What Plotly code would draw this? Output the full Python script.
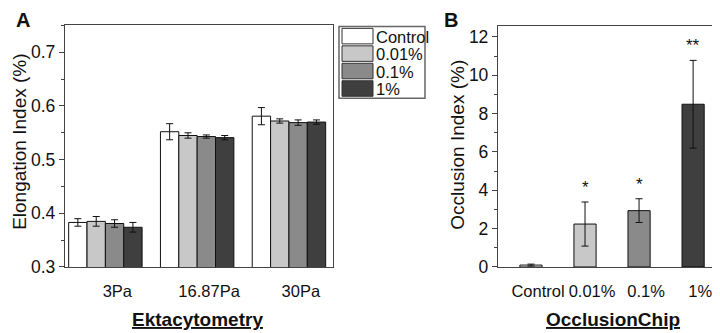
import plotly.graph_objects as go

# ---------------- data ----------------
shear_labels = ["3Pa", "16.87Pa", "30Pa"]
series_names = ["Control", "0.01%", "0.1%", "1%"]
ei_control = [0.383, 0.552, 0.581]
ei_001 = [0.385, 0.545, 0.572]
ei_01 = [0.381, 0.543, 0.569]
ei_1 = [0.374, 0.541, 0.570]
ei_control_err = [0.007, 0.015, 0.016]
ei_001_err = [0.009, 0.005, 0.004]
ei_01_err = [0.007, 0.003, 0.005]
ei_1_err = [0.009, 0.004, 0.004]

occ_labels = ["Control", "0.01%", "0.1%", "1%"]
occ_values = [0.10, 2.24, 2.94, 8.49]
occ_err = [0.05, 1.15, 0.62, 2.29]
occ_sig = ["", "*", "*", "**"]

# ---------------- style ----------------
colors = ["#ffffff", "#c8c8c8", "#8a8a8a", "#3f3f3f"]
FONT = "Liberation Sans, Arial, sans-serif"
W, H = 720, 333
LABEL_OFFSET = 0.13

def px(x):
    return x / W

def py(y):
    return 1 - y / H

fig = go.Figure()

ei_series = [ei_control, ei_001, ei_01, ei_1]
ei_errs = [ei_control_err, ei_001_err, ei_01_err, ei_1_err]
xa = list(range(len(shear_labels)))
for name, vals, errs, c in zip(series_names, ei_series, ei_errs, colors):
    fig.add_trace(go.Bar(
        x=xa, y=vals, name=name, xaxis="x", yaxis="y",
        marker=dict(color=c, line=dict(color="#111111", width=1)),
        error_y=dict(type="data", array=errs, color="#111111", thickness=1, width=3.5),
        showlegend=False,
    ))

xb = list(range(len(occ_labels)))
fig.add_trace(go.Bar(
    x=xb, y=occ_values, xaxis="x2", yaxis="y2", width=0.41,
    marker=dict(color=colors, line=dict(color="#111111", width=1)),
    error_y=dict(type="data", array=occ_err, color="#111111", thickness=1, width=3.5),
    showlegend=False, offsetgroup="b",
))

axis_common = dict(showline=True, linecolor="#444444", linewidth=1.3, mirror=True,
                   showgrid=False, zeroline=False)
ytick_font = dict(family=FONT, size=17.5, color="#111111")
xtick_font = dict(family=FONT, size=16.5, color="#111111")

fig.update_layout(
    width=W, height=H, margin=dict(l=0, r=0, t=0, b=0),
    plot_bgcolor="white", paper_bgcolor="white",
    barmode="group", bargap=0.2, bargroupgap=0,
    font=dict(family=FONT, size=16, color="#111111"),
    xaxis=dict(domain=[px(57), px(325)], range=[-0.44, 2.48],
               tickvals=[i + LABEL_OFFSET for i in xa], ticktext=shear_labels,
               ticks="outside", ticklen=9, tickcolor="rgba(0,0,0,0)", tickfont=xtick_font,
               anchor="y", **axis_common),
    yaxis=dict(domain=[py(267), py(18)], range=[0.3, 0.75],
               tickvals=[0.3, 0.4, 0.5, 0.6, 0.7], ticktext=["0.3", "0.4", "0.5", "0.6", "0.7"],
               ticks="outside", ticklen=5, tickcolor="#444444", tickfont=ytick_font,
               minor=dict(ticks="outside", ticklen=3, dtick=0.05, tick0=0.3, tickcolor="#444444"),
               anchor="x", **axis_common),
    xaxis2=dict(domain=[px(490), px(717)], range=[-0.61, 3.59],
                tickvals=[i + LABEL_OFFSET for i in xb], ticktext=occ_labels,
                ticks="outside", ticklen=9, tickcolor="rgba(0,0,0,0)", tickfont=xtick_font,
                anchor="y2", **axis_common),
    yaxis2=dict(domain=[py(267), py(19)], range=[0, 12.55],
                tickvals=[0, 2, 4, 6, 8, 10, 12],
                ticks="outside", ticklen=5, tickcolor="#444444", tickfont=ytick_font,
                minor=dict(ticks="outside", ticklen=3, dtick=1, tick0=0, tickcolor="#444444"),
                anchor="x2", **axis_common),
)

ann = []
# panel letters
ann.append(dict(text="<b>A</b>", x=px(15), y=py(12), xref="paper", yref="paper",
                showarrow=False, font=dict(size=20, family=FONT), xanchor="center", yanchor="middle"))
ann.append(dict(text="<b>B</b>", x=px(443), y=py(12), xref="paper", yref="paper",
                showarrow=False, font=dict(size=20, family=FONT), xanchor="center", yanchor="middle"))
# y titles
ann.append(dict(text="Elongation Index (%)", x=px(12), y=py(138), xref="paper", yref="paper",
                textangle=-90, showarrow=False, font=dict(size=19, family=FONT),
                xanchor="center", yanchor="middle"))
ann.append(dict(text="Occlusion Index (%)", x=px(450), y=py(141), xref="paper", yref="paper",
                textangle=-90, showarrow=False, font=dict(size=19, family=FONT),
                xanchor="center", yanchor="middle"))
# x titles
ann.append(dict(text="<b><u>Ektacytometry</u></b>", x=px(189), y=py(321), xref="paper", yref="paper",
                showarrow=False, font=dict(size=19, family=FONT), xanchor="center", yanchor="middle"))
ann.append(dict(text="<b><u>OcclusionChip</u></b>", x=px(605), y=py(321), xref="paper", yref="paper",
                showarrow=False, font=dict(size=19, family=FONT), xanchor="center", yanchor="middle"))
# significance stars
for i, (v, e, s) in enumerate(zip(occ_values, occ_err, occ_sig)):
    if s:
        ann.append(dict(text=s, x=i, y=v + e, xref="x2", yref="y2", showarrow=False,
                        font=dict(size=17, family=FONT), xanchor="center", yanchor="bottom", yshift=3))

# manual legend (large swatches like the original)
shapes = []
shapes.append(dict(type="rect", xref="paper", yref="paper", x0=px(331), x1=px(417), y0=py(93), y1=py(19),
                   line=dict(color="#666666", width=1.5), fillcolor="white", layer="above"))
row_h = 18
for k, (name, c) in enumerate(zip(series_names, colors)):
    top = 21 + k * row_h
    shapes.append(dict(type="rect", xref="paper", yref="paper", x0=px(334), x1=px(365),
                       y0=py(top + 16), y1=py(top), fillcolor=c,
                       line=dict(color="#333333", width=1), layer="above"))
    ann.append(dict(text=name, x=px(366), y=py(top + 8.5), xref="paper", yref="paper", showarrow=False,
                    font=dict(size=16.5, family=FONT), xanchor="left", yanchor="middle"))

fig.update_layout(annotations=ann, shapes=shapes)
fig.write_html("out.html")
